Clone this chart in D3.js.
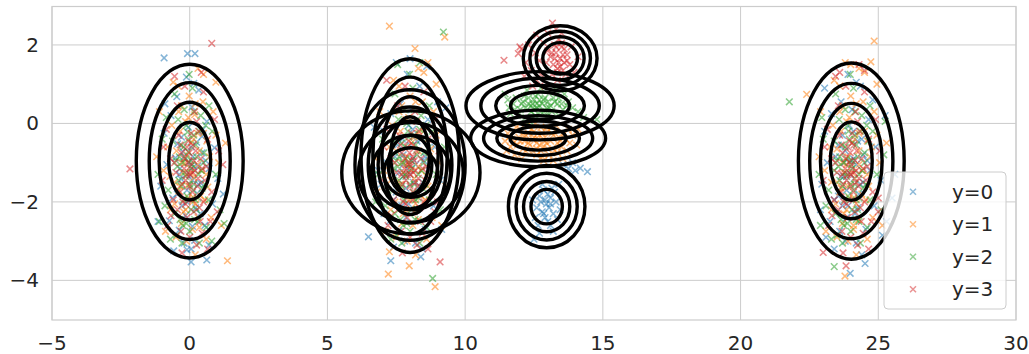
<!DOCTYPE html>
<html>
<head>
<meta charset="utf-8">
<script src="https://cdn.jsdelivr.net/npm/d3@7"></script>
<style>
  body { margin: 0; background: #fff; }
  svg { font-family: "DejaVu Sans", sans-serif; }
</style>
</head>
<body>
<div id="chart"></div>
<script>
// tick labels
const xTicks = [-5, 0, 5, 10, 15, 20, 25, 30];
const yTicks = [-4, -2, 0, 2];
const classLabels = ["y=0", "y=1", "y=2", "y=3"];
const classColors = ["#1f77b4", "#ff7f0e", "#2ca02c", "#d62728"];

// samples, y=0 (blue), one array per cluster
const blue0 = [[0.12,-0.85],[-0.31,-1.42],[0.45,-0.33],[-0.62,-1.9],[0.08,0.42],[-0.15,-2.35],[0.71,-1.15],[-0.44,-0.52],[0.27,-1.78],[-0.05,-0.1],[0.55,-2.6],[-0.83,-1.05],[0.33,0.85],[-0.21,-3.05],[0.9,-0.62],[-0.68,0.2],[0.02,-1.32],[-0.38,-2.72],[0.62,0.05],[-1.05,-1.6],[0.18,-2.98],[-0.12,1.18],[0.83,-2.05],[-0.52,-0.88],[0.4,-1.52],[-0.93,-0.25],[0.25,-0.48],[-0.28,-2.1],[1.02,-1.4],[-0.74,-2.48],[0.15,1.02],[-0.47,0.68],[0.58,-0.95],[-0.1,-1.7],[0.38,-2.3],[-0.9,0.5],[0.7,-3.1],[-0.58,-3.25],[0.05,-3.2],[-0.1,-3.22],[0.62,-3.48],[0.05,-3.53],[-0.93,1.67],[-0.08,1.78],[0.19,1.78],[-1.15,-2.5],[1.22,-1.8],[0.48,-0.15],[-0.25,-0.72],[0.1,-2.62],[-0.35,-1.15],[0.3,-1.08]];
const blue8 = [[8.1,-0.9],[7.75,-1.35],[8.4,-0.4],[7.4,-1.95],[8.05,0.35],[7.85,-2.4],[8.7,-1.2],[7.55,-0.55],[8.3,-1.8],[7.95,-0.05],[8.55,-2.7],[7.15,-1.0],[8.35,0.95],[7.8,-3.0],[8.9,-0.6],[7.3,0.25],[8.0,-1.3],[7.6,-2.75],[8.65,0.1],[6.95,-1.55],[8.2,-3.05],[7.9,1.25],[8.85,-2.1],[7.45,-0.85],[8.45,-1.5],[7.05,-0.2],[8.25,-0.45],[7.7,-2.1],[9.1,-1.45],[7.25,-2.5],[6.49,-2.89],[7.3,-3.5],[8.39,-3.4],[6.7,-0.1],[6.85,-1.2],[9.3,0.4],[8.0,1.65],[8.6,1.45],[7.5,1.55],[9.15,-2.7],[7.05,-2.3],[8.55,-0.85],[7.85,-1.65],[8.15,-2.25],[7.65,0.5],[9.0,0.55],[7.4,-3.15],[8.45,-3.2],[8.1,-0.15],[7.75,-1.05]];
const blue13 = [[12.95,-2.05],[13.1,-1.9],[12.8,-2.25],[13.2,-2.3],[12.7,-1.85],[13.0,-2.5],[12.85,-1.7],[13.3,-2.0],[12.6,-2.15],[13.15,-1.65],[12.9,-2.4],[13.05,-2.15],[12.75,-2.0],[13.35,-2.45],[12.55,-2.4],[13.0,-1.8],[12.65,-2.6],[13.25,-1.75],[12.9,-1.95],[13.1,-2.6],[12.45,-1.95],[13.45,-2.2],[12.8,-1.55],[13.2,-2.75],[12.7,-2.8],[13.4,-1.55],[14.44,-1.23],[14.18,-1.14],[14.0,-1.2],[13.75,-1.15],[13.55,-1.05],[13.9,-1.0],[12.5,-2.95],[12.85,-2.3],[13.1,-2.05]];
const blue24 = [[24.1,-0.9],[23.75,-1.35],[24.4,-0.4],[23.4,-1.95],[24.05,0.35],[23.85,-2.4],[24.7,-1.2],[23.55,-0.55],[24.3,-1.8],[23.95,-0.05],[24.55,-2.7],[23.15,-1.0],[24.35,0.95],[23.8,-3.0],[24.9,-0.6],[23.3,0.25],[24.0,-1.3],[23.6,-2.75],[24.65,0.1],[22.95,-1.55],[24.2,-3.05],[23.9,1.25],[24.85,-2.1],[23.45,-0.85],[24.45,-1.5],[23.05,-0.2],[24.25,-0.45],[23.7,-2.1],[25.1,-1.45],[23.25,-2.5],[23.98,-3.82],[24.52,-3.57],[25.6,-1.3],[25.5,-1.9],[25.3,-2.5],[25.15,-2.85],[24.2,1.05],[23.05,0.9],[22.9,-2.2],[23.1,-2.9],[24.6,-0.95],[23.85,-1.7],[24.15,-2.3],[23.65,0.55],[25.25,0.2],[24.8,0.6],[23.4,-3.2],[24.4,-3.35],[24.1,-0.2],[23.75,-1.0]];
const blueCore = [[0.15,-1.1],[-0.2,-0.85],[0.32,-1.55],[-0.38,-1.3],[0.05,-0.6],[-0.1,-2.0],[0.45,-0.75],[-0.3,-0.35],[0.22,-2.15],[-0.45,-1.8],[0.1,-1.45],[-0.05,-1.0],[8.2,-1.05],[7.75,-0.8],[8.35,-1.6],[7.6,-1.25],[8.0,-0.55],[7.95,-2.05],[8.5,-0.95],[7.72,-0.4],[8.25,-2.2],[7.5,-1.75],[8.12,-1.5],[7.9,-1.15],[24.2,-1.05],[23.8,-0.7],[24.35,-1.55],[23.65,-1.35],[24.05,-0.5],[23.9,-2.1],[24.45,-0.8],[23.7,-0.3],[24.25,-2.15],[23.55,-1.85],[24.12,-1.4],[23.98,-0.95]];

// samples, y=1 (orange)
const orange0 = [[-0.18,-1.02],[0.35,-0.7],[-0.55,-1.5],[0.22,-2.05],[-0.05,0.15],[0.66,-1.62],[-0.8,-0.6],[0.48,0.55],[-0.3,-2.55],[0.15,-1.38],[-0.42,0.95],[0.78,-2.4],[-0.12,-3.0],[0.95,-0.3],[-0.7,-2.2],[0.3,1.4],[0.5,1.25],[-0.95,-1.2],[0.05,-0.5],[-0.35,-0.2],[0.6,-2.95],[-0.6,1.05],[1.05,-1.0],[-1.1,0.3],[0.2,-3.35],[-0.5,-2.9],[0.85,0.3],[0.12,-1.88],[-0.25,-1.25],[0.42,-1.2],[-0.65,-0.05],[0.72,-0.85],[-0.02,0.7],[-0.88,-2.75],[1.15,-2.6],[1.37,-3.5],[-0.4,-1.72],[0.28,-0.25],[-0.15,-2.2],[0.55,-1.95],[0.95,1.05],[-1.2,-0.85],[1.3,-0.5],[0.1,-2.7],[-0.3,0.45],[0.62,-0.45],[-0.08,-1.58],[0.35,-2.65],[-0.72,-1.35],[0.18,0.22]];
const orange8 = [[7.85,-1.05],[8.3,-0.7],[7.5,-1.5],[8.2,-2.05],[7.95,0.15],[8.65,-1.6],[7.25,-0.6],[8.45,0.55],[7.7,-2.55],[8.15,-1.4],[7.6,0.95],[8.8,-2.4],[7.9,-3.0],[8.95,-0.3],[7.3,-2.2],[8.3,1.4],[8.5,1.3],[7.05,-1.2],[8.05,-0.5],[7.65,-0.2],[8.6,-2.95],[7.4,1.1],[9.05,-1.0],[6.9,0.3],[8.2,-3.35],[7.5,-2.9],[8.85,0.3],[8.1,-1.9],[7.75,-1.25],[8.4,-1.2],[7.35,-0.05],[8.7,-0.85],[8.0,0.7],[7.1,-2.75],[9.15,-2.6],[7.25,2.48],[9.26,2.2],[8.18,1.91],[7.25,-3.27],[7.21,-3.84],[7.97,-3.63],[8.91,-4.16],[6.75,-0.9],[6.8,-1.75],[9.3,-1.6],[8.65,1.55],[7.6,-1.75],[8.3,-0.25],[7.85,-2.2],[8.55,-1.95],[8.95,1.0],[7.7,0.45]];
const orange13 = [[12.65,-0.4],[12.2,-0.3],[13.1,-0.45],[11.9,-0.55],[12.5,-0.2],[13.4,-0.35],[12.0,-0.15],[12.85,-0.6],[11.7,-0.4],[13.25,-0.7],[12.35,-0.55],[13.6,-0.25],[12.75,-0.1],[11.55,-0.25],[13.0,-0.2],[12.4,-0.75],[13.8,-0.5],[12.1,-0.65],[12.9,-0.35],[11.8,-0.8],[13.3,-0.05],[12.6,-0.65],[12.25,-0.05],[13.5,-0.6],[11.95,-0.35],[12.8,-0.85],[13.15,-0.25],[12.45,-0.4],[13.7,-0.7],[12.05,-0.9],[12.55,0.0],[13.05,-0.8],[11.65,-0.6],[13.9,-0.3],[12.3,-0.25],[12.95,-0.5],[11.45,-0.45],[14.05,-0.55],[12.7,-0.3],[12.15,-0.45],[13.35,-0.5],[12.85,-0.95],[13.55,-0.9],[11.85,-0.1],[12.6,-0.5],[14.1,-0.15],[11.5,-0.7],[13.2,-0.95]];
const orange24 = [[23.85,-1.05],[24.3,-0.7],[23.5,-1.5],[24.2,-2.05],[23.95,0.15],[24.65,-1.6],[23.25,-0.6],[24.45,0.55],[23.7,-2.55],[24.15,-1.4],[23.6,0.95],[24.8,-2.4],[23.9,-3.0],[24.95,-0.3],[23.3,-2.2],[24.3,1.4],[24.5,1.3],[23.05,-1.2],[24.05,-0.5],[23.65,-0.2],[24.6,-2.95],[23.4,1.1],[25.05,-1.0],[22.9,0.3],[24.2,-3.35],[23.5,-2.9],[24.85,0.3],[24.1,-1.9],[23.75,-1.25],[24.4,-1.2],[23.35,-0.05],[24.7,-0.85],[24.0,0.7],[23.1,-2.75],[25.15,-2.6],[24.85,2.1],[24.73,1.57],[22.4,0.74],[23.79,-3.89],[23.6,-1.75],[24.3,-0.25],[23.85,-2.2],[24.55,-1.95],[24.95,1.0],[22.85,-0.85],[25.3,-0.5],[24.1,-2.7],[23.7,0.45],[24.6,-0.45],[23.9,-1.6],[23.8,1.55],[24.0,1.5]];
const orangeCore = [[-0.1,-0.8],[0.28,-1.05],[-0.35,-1.6],[0.15,-0.4],[-0.22,-2.25],[0.4,-1.85],[-0.48,-0.7],[0.05,-1.25],[0.5,-0.25],[-0.15,0.05],[0.3,-2.4],[-0.55,-2.05],[0.2,0.5],[-0.3,-1.0],[0.6,-1.3],[-0.05,-1.9],[0.1,-2.0],[-0.4,0.3],[7.9,-0.85],[8.3,-1.1],[7.65,-1.55],[8.15,-0.35],[7.75,-2.3],[8.4,-1.85],[7.5,-0.7],[8.05,-1.2],[8.5,-0.2],[7.85,0.1],[8.3,-2.45],[7.45,-2.0],[8.2,0.55],[7.7,-1.0],[8.6,-1.35],[7.95,-1.95],[8.1,-2.6],[7.6,0.3],[8.75,-0.65],[7.3,-1.45],[23.9,-0.85],[24.3,-1.05],[23.65,-1.65],[24.15,-0.4],[23.75,-2.3],[24.4,-1.8],[23.5,-0.65],[24.05,-1.25],[24.5,-0.2],[23.85,0.05],[24.3,-2.45],[23.45,-2.05],[24.2,0.5],[23.7,-1.0],[24.6,-1.3],[23.95,-1.9],[24.1,-2.6],[23.6,0.3],[24.75,-0.6],[23.3,-1.5],[12.5,-0.35],[12.9,-0.45],[12.3,-0.5],[13.2,-0.3],[12.7,-0.55],[12.1,-0.3],[13.45,-0.45],[12.8,-0.25],[12.2,-0.7],[13.0,-0.65],[11.75,-0.5],[13.65,-0.4],[12.4,-0.15],[12.95,-0.1],[12.6,-0.8],[13.35,-0.75],[11.6,-0.35],[12.0,-0.45],[13.75,-0.15],[12.75,-0.7]];

// samples, y=2 (green)
const green0 = [[0.05,-0.95],[-0.22,-0.6],[0.32,-1.3],[-0.45,-1.1],[0.15,-0.3],[-0.1,-1.85],[0.52,-0.75],[-0.62,-0.45],[0.25,-2.2],[-0.35,-2.45],[0.68,-1.95],[-0.78,-1.7],[0.4,0.2],[-0.2,0.35],[0.0,-2.75],[-0.55,0.75],[0.82,-0.2],[-0.9,-2.1],[0.6,-2.65],[-0.28,-3.05],[0.1,0.9],[-1.0,-0.4],[0.95,-1.3],[-0.48,-2.85],[0.35,-3.05],[-0.15,-1.35],[0.22,-0.55],[-0.38,-0.85],[0.45,-1.65],[-0.08,-0.22],[0.7,0.45],[-0.7,-2.95],[0.15,-1.55],[-0.3,-1.6],[0.5,-1.0],[-0.55,-2.3],[1.1,-2.2],[-1.15,-1.3],[-0.02,1.25],[0.8,-3.0],[-0.85,0.15],[0.3,-2.5],[-0.12,-2.55],[0.58,-0.05],[-0.42,0.1],[0.05,-1.15],[-0.25,-1.0],[0.2,-1.95],[-0.05,-0.72],[1.25,-2.55],[-1.1,-2.5]];
const green8 = [[8.05,-0.95],[7.8,-0.6],[8.3,-1.3],[7.55,-1.1],[8.15,-0.3],[7.9,-1.85],[8.5,-0.75],[7.4,-0.45],[8.25,-2.2],[7.65,-2.45],[8.7,-1.95],[7.2,-1.7],[8.4,0.2],[7.8,0.35],[8.0,-2.75],[7.45,0.75],[8.8,-0.2],[7.1,-2.1],[8.6,-2.65],[7.7,-3.05],[8.1,0.9],[7.0,-0.4],[8.95,-1.3],[7.5,-2.85],[8.35,-3.05],[7.85,-1.35],[8.2,-0.55],[7.6,-0.85],[8.45,-1.65],[7.92,-0.2],[8.7,0.45],[7.3,-2.95],[8.15,-1.55],[7.7,-1.6],[8.5,-1.0],[7.45,-2.3],[9.1,-2.2],[6.85,-1.3],[7.98,1.25],[9.21,2.33],[8.82,-3.95],[6.75,-2.0],[9.25,-0.6],[8.3,-2.5],[7.88,-2.55],[8.58,-0.05],[7.58,0.1],[8.05,-1.15],[7.75,-1.0],[8.2,-1.95],[7.55,1.5],[8.35,1.55]];
const green13 = [[12.7,0.45],[12.3,0.5],[13.05,0.4],[12.0,0.35],[12.5,0.6],[13.35,0.5],[12.15,0.7],[12.85,0.3],[11.75,0.5],[13.2,0.65],[12.4,0.3],[13.55,0.35],[12.65,0.75],[11.9,0.2],[13.0,0.55],[12.55,0.2],[13.75,0.55],[12.2,0.15],[12.9,0.65],[11.6,0.4],[13.4,0.2],[12.8,0.5],[12.1,0.55],[13.6,0.75],[11.85,0.65],[12.6,0.4],[13.15,0.3],[12.45,0.5],[13.9,0.4],[12.25,0.85],[12.95,0.15],[11.55,0.6],[14.1,0.3],[12.75,0.9],[11.45,0.75],[14.78,0.1],[14.3,0.15],[13.3,0.85],[12.35,0.05],[11.65,0.25]];
const green24 = [[24.05,-0.95],[23.8,-0.6],[24.3,-1.3],[23.55,-1.1],[24.15,-0.3],[23.9,-1.85],[24.5,-0.75],[23.4,-0.45],[24.25,-2.2],[23.65,-2.45],[24.7,-1.95],[23.2,-1.7],[24.4,0.2],[23.8,0.35],[24.0,-2.75],[23.45,0.75],[24.8,-0.2],[23.1,-2.1],[24.6,-2.65],[23.7,-3.05],[24.1,0.9],[23.0,-0.4],[24.95,-1.3],[23.5,-2.85],[24.35,-3.05],[23.85,-1.35],[24.2,-0.55],[23.6,-0.85],[24.45,-1.65],[23.92,-0.2],[24.7,0.45],[23.3,-2.95],[24.15,-1.55],[23.7,-1.6],[24.5,-1.0],[23.45,-2.3],[25.1,-2.2],[22.85,-1.3],[23.98,1.25],[21.77,0.55],[23.4,-3.65],[22.95,0.15],[24.3,-2.5],[23.88,-2.55],[24.58,-0.05],[23.58,0.1],[24.05,-1.15],[23.75,-1.0],[24.2,-1.95],[25.2,-0.8],[22.9,-2.6],[25.25,0.05]];
const greenCore = [[0.08,-1.05],[-0.18,-1.25],[0.25,-0.85],[-0.3,-0.55],[0.12,-1.7],[-0.05,-0.4],[0.35,-0.2],[-0.4,-1.45],[0.18,-2.45],[-0.22,-1.95],[0.42,-1.2],[-0.12,-0.05],[0.0,-1.55],[0.3,-1.9],[-0.5,-0.95],[0.15,0.3],[-0.25,-2.6],[0.55,-1.55],[-0.15,-0.9],[0.05,-2.2],[7.98,-1.05],[7.82,-1.3],[8.25,-0.8],[7.7,-0.5],[8.12,-1.75],[7.95,-0.35],[8.35,-0.15],[7.6,-1.45],[8.18,-2.45],[7.78,-1.95],[8.42,-1.2],[7.88,0.0],[8.0,-1.55],[8.3,-1.9],[7.5,-0.95],[8.15,0.35],[7.75,-2.6],[8.55,-1.55],[7.85,-0.9],[8.05,-2.2],[8.65,-0.5],[7.4,-1.15],[24.02,-1.05],[23.8,-1.25],[24.25,-0.85],[23.7,-0.55],[24.1,-1.7],[23.95,-0.4],[24.35,-0.2],[23.6,-1.45],[24.2,-2.45],[23.78,-1.95],[24.42,-1.2],[23.88,-0.05],[24.0,-1.55],[24.3,-1.9],[23.5,-0.95],[24.15,0.3],[23.75,-2.6],[24.55,-1.55],[23.85,-0.9],[24.05,-2.2],[24.65,-0.45],[23.4,-1.2],[12.6,0.5],[12.95,0.4],[12.4,0.45],[13.25,0.55],[12.75,0.3],[12.2,0.4],[13.5,0.5],[12.85,0.6],[12.3,0.65],[13.1,0.45],[11.8,0.35],[13.7,0.45],[12.5,0.35],[13.0,0.25],[12.7,0.6],[12.05,0.5],[13.4,0.65],[12.55,0.7]];

// samples, y=3 (red)
const red0 = [[-0.05,-0.98],[0.2,-1.2],[-0.3,-0.75],[0.12,-0.55],[-0.15,-1.45],[0.4,-0.9],[-0.5,-1.25],[0.28,-1.6],[-0.25,-2.0],[0.55,-1.45],[-0.7,-0.9],[0.05,-0.25],[-0.4,-0.3],[0.65,-0.4],[-0.1,-2.4],[0.35,-2.15],[-0.6,-1.95],[0.8,-1.75],[-0.85,-0.15],[0.18,0.3],[0.5,0.8],[-0.45,0.45],[0.0,-2.9],[0.75,-2.5],[-0.8,-2.6],[1.05,-0.7],[-1.0,-1.45],[0.9,0.1],[-0.32,-2.75],[0.25,-3.1],[-0.55,1.2],[0.8,2.04],[-2.17,-1.16],[1.2,-1.05],[-0.18,0.95],[0.45,-2.8],[-0.68,-2.35],[0.1,-1.75],[-0.2,-1.15],[0.32,-0.2],[-0.35,-1.75],[0.6,-1.1],[-0.1,-0.6],[0.15,-2.25],[0.0,-1.3],[-0.95,-0.6],[1.0,-2.25],[0.42,1.3],[-0.28,-3.3],[0.65,-3.2]];
const red8 = [[7.95,-0.98],[8.2,-1.2],[7.7,-0.75],[8.12,-0.55],[7.85,-1.45],[8.4,-0.9],[7.5,-1.25],[8.28,-1.6],[7.75,-2.0],[8.55,-1.45],[7.3,-0.9],[8.05,-0.25],[7.6,-0.3],[8.65,-0.4],[7.9,-2.4],[8.35,-2.15],[7.4,-1.95],[8.8,-1.75],[7.15,-0.15],[8.18,0.3],[8.5,0.8],[7.55,0.45],[8.0,-2.9],[8.75,-2.5],[7.2,-2.6],[9.05,-0.7],[7.0,-1.45],[8.9,0.1],[7.68,-2.75],[8.25,-3.1],[7.15,1.1],[9.09,-3.53],[8.9,-2.25],[7.82,0.95],[8.45,-2.8],[7.32,-2.35],[8.1,-1.75],[7.8,-1.15],[8.32,-0.2],[7.65,-1.75],[8.6,-1.1],[7.9,-0.6],[8.15,-2.25],[8.0,-1.3],[7.05,-0.6],[9.0,-2.0],[7.72,-3.3],[8.65,-3.2],[7.95,-1.05],[8.1,-0.85]];
const red13 = [[13.45,1.65],[13.3,1.8],[13.6,1.55],[13.2,1.5],[13.5,1.95],[13.35,1.4],[13.7,1.75],[13.1,1.7],[13.55,1.35],[13.25,2.0],[13.8,1.5],[13.0,1.85],[13.4,2.15],[13.65,1.25],[12.95,1.55],[13.85,1.95],[13.15,1.25],[13.5,2.3],[12.85,2.05],[13.17,2.56],[13.3,2.4],[12.7,1.6],[12.55,1.8],[12.4,1.35],[12.3,2.0],[12.6,1.1],[12.2,1.55],[12.05,1.9],[12.45,0.95],[11.41,1.61],[11.93,1.78],[11.99,1.95],[12.75,1.25],[12.15,1.2],[13.95,1.3],[14.1,1.7],[13.35,1.1],[12.9,0.95],[12.6,2.25],[13.0,2.3]];
const red24 = [[23.95,-0.98],[24.2,-1.2],[23.7,-0.75],[24.12,-0.55],[23.85,-1.45],[24.4,-0.9],[23.5,-1.25],[24.28,-1.6],[23.75,-2.0],[24.55,-1.45],[23.3,-0.9],[24.05,-0.25],[23.6,-0.3],[24.65,-0.4],[23.9,-2.4],[24.35,-2.15],[23.4,-1.95],[24.8,-1.75],[23.15,-0.15],[24.18,0.3],[24.5,0.8],[23.55,0.45],[24.0,-2.9],[24.75,-2.5],[23.2,-2.6],[25.05,-0.7],[23.0,-1.45],[24.9,0.1],[23.68,-2.75],[24.25,-3.1],[23.45,1.2],[24.5,1.35],[23.0,-3.29],[23.83,-3.63],[25.0,-1.9],[23.82,0.95],[24.45,-2.8],[23.32,-2.35],[24.1,-1.75],[23.8,-1.15],[24.32,-0.2],[23.65,-1.75],[24.6,-1.1],[23.9,-0.6],[24.15,-2.25],[24.0,-1.3],[23.05,-0.6],[25.0,-2.25],[23.72,-3.3],[24.65,-3.2],[24.3,1.5],[23.6,1.3]];
const redCore = [[0.02,-1.1],[-0.2,-0.9],[0.22,-0.7],[-0.1,-1.3],[0.3,-1.4],[-0.35,-0.55],[0.1,-1.95],[-0.28,-1.55],[0.45,-1.15],[-0.05,-0.45],[0.15,-0.95],[-0.45,-2.2],[0.38,-2.5],[0.0,-1.6],[-0.15,-2.05],[0.25,0.05],[-0.55,-1.0],[0.5,-2.0],[-0.02,-0.75],[0.12,-1.25],[8.02,-1.1],[7.8,-0.9],[8.22,-0.7],[7.9,-1.3],[8.3,-1.4],[7.65,-0.55],[8.1,-1.95],[7.72,-1.55],[8.45,-1.15],[7.95,-0.45],[8.15,-0.95],[7.55,-2.2],[8.38,-2.5],[8.0,-1.6],[7.85,-2.05],[8.25,0.05],[7.45,-1.0],[8.5,-2.0],[7.98,-0.75],[8.12,-1.25],[7.7,-1.3],[8.2,-1.5],[24.02,-1.1],[23.8,-0.9],[24.22,-0.7],[23.9,-1.3],[24.3,-1.4],[23.65,-0.55],[24.1,-1.95],[23.72,-1.55],[24.45,-1.15],[23.95,-0.45],[24.15,-0.95],[23.55,-2.2],[24.38,-2.5],[24.0,-1.6],[23.85,-2.05],[24.25,0.05],[23.45,-1.0],[24.5,-2.0],[23.98,-0.75],[24.12,-1.25],[23.7,-1.3],[24.2,-1.5],[13.4,1.55],[13.55,1.75],[13.25,1.65],[13.6,1.9],[13.45,1.45],[13.3,1.95],[13.7,1.6],[13.15,1.8],[13.5,2.05],[13.35,1.3]];

// contour rings: centre, then semi-axes of each ring (data units)
const ringCenters = [[0.0,-0.96],[24.02,-0.96],[8.0,-0.82],[8.03,-1.25],[8.0,-1.06],[13.45,1.66],[12.72,0.45],[12.65,-0.38],[12.96,-2.12]];
const ringRx = [[0.76,1.11,1.47,1.94],[0.76,1.12,1.51,1.92],[0.70,1.02,1.35,1.78],[0.98,1.44,1.9,2.51],[0.79,1.16,1.52,2.0],[0.63,0.87,1.10,1.34],[1.07,1.61,2.15,2.69],[1.02,1.5,1.98,2.45],[0.57,0.84,1.11,1.39]];
const ringRy = [[0.99,1.5,2.0,2.47],[1.0,1.47,1.98,2.5],[0.99,1.5,2.0,2.47],[0.63,0.95,1.27,1.57],[0.76,1.12,1.48,1.92],[0.40,0.55,0.69,0.83],[0.35,0.52,0.7,0.87],[0.30,0.44,0.58,0.72],[0.44,0.64,0.85,1.05]];

const classPoints = [
  blue0.concat(blue8, blue13, blue24, blueCore),
  orange0.concat(orange8, orange13, orange24, orangeCore),
  green0.concat(green8, green13, green24, greenCore),
  red0.concat(red8, red13, red24, redCore)
];

const W = 1029, H = 354;
const margin = {top: 6.5, right: 13, bottom: 34, left: 52};

const svg = d3.select("#chart").append("svg")
  .attr("width", W)
  .attr("height", H);

const x = d3.scaleLinear().domain([-5, 30]).range([margin.left, W - margin.right]);
const y = d3.scaleLinear().domain([-5.01, 2.98]).range([H - margin.bottom, margin.top]);

const gridColor = "#cccccc";
const textColor = "#262626";

// grid
svg.append("g").selectAll("line").data(xTicks).join("line")
  .attr("x1", d => x(d)).attr("x2", d => x(d))
  .attr("y1", y.range()[1]).attr("y2", y.range()[0])
  .attr("stroke", gridColor).attr("stroke-width", 1);
svg.append("g").selectAll("line").data(yTicks).join("line")
  .attr("x1", x.range()[0]).attr("x2", x.range()[1])
  .attr("y1", d => y(d)).attr("y2", d => y(d))
  .attr("stroke", gridColor).attr("stroke-width", 1);

// frame
svg.append("rect")
  .attr("x", x.range()[0]).attr("y", y.range()[1])
  .attr("width", x.range()[1] - x.range()[0])
  .attr("height", y.range()[0] - y.range()[1])
  .attr("fill", "none").attr("stroke", gridColor).attr("stroke-width", 1.2);

// tick labels
const fmt = d => d < 0 ? "\u2212" + Math.abs(d) : String(d);
svg.append("g").selectAll("text").data(xTicks).join("text")
  .attr("x", d => x(d)).attr("y", y.range()[0] + 30)
  .attr("text-anchor", "middle")
  .attr("font-size", 20).attr("fill", textColor)
  .text(fmt);
svg.append("g").selectAll("text").data(yTicks).join("text")
  .attr("x", x.range()[0] - 13).attr("y", d => y(d) + 7)
  .attr("text-anchor", "end")
  .attr("font-size", 20).attr("fill", textColor)
  .text(fmt);

// x-shaped marker path
const cross = s => `M${-s},${-s}L${s},${s}M${-s},${s}L${s},${-s}`;

const pts = svg.append("g");
classPoints.forEach((list, i) => {
  pts.append("g").selectAll("path").data(list).join("path")
    .attr("transform", d => `translate(${x(d[0])},${y(d[1])})`)
    .attr("d", cross(3.3))
    .attr("stroke", classColors[i])
    .attr("stroke-width", 1.5)
    .attr("stroke-opacity", 0.55)
    .attr("fill", "none");
});

// contour ellipses
const rings = [];
ringCenters.forEach((c, i) => {
  ringRx[i].forEach((rx, j) => rings.push({cx: c[0], cy: c[1], rx: rx, ry: ringRy[i][j]}));
});
svg.append("g").selectAll("ellipse").data(rings).join("ellipse")
  .attr("cx", d => x(d.cx))
  .attr("cy", d => y(d.cy))
  .attr("rx", d => x(d.cx + d.rx) - x(d.cx))
  .attr("ry", d => y(d.cy) - y(d.cy + d.ry))
  .attr("fill", "none")
  .attr("stroke", "#000")
  .attr("stroke-width", 3.4);

// legend
const lg = svg.append("g");
lg.append("rect")
  .attr("x", 884).attr("y", 172).attr("width", 122).attr("height", 137)
  .attr("rx", 4)
  .attr("fill", "#fff").attr("fill-opacity", 0.8)
  .attr("stroke", gridColor).attr("stroke-width", 1);
const items = lg.selectAll("g.item").data(classLabels).join("g")
  .attr("class", "item")
  .attr("transform", (d, i) => `translate(0,${191.7 + i * 32.5})`);
items.append("path")
  .attr("transform", "translate(913,0)")
  .attr("d", cross(3))
  .attr("stroke", (d, i) => classColors[i])
  .attr("stroke-width", 1.5)
  .attr("stroke-opacity", 0.5)
  .attr("fill", "none");
items.append("text")
  .attr("x", 952).attr("y", 7)
  .attr("font-size", 20).attr("fill", textColor)
  .text(d => d);
</script>
</body>
</html>
